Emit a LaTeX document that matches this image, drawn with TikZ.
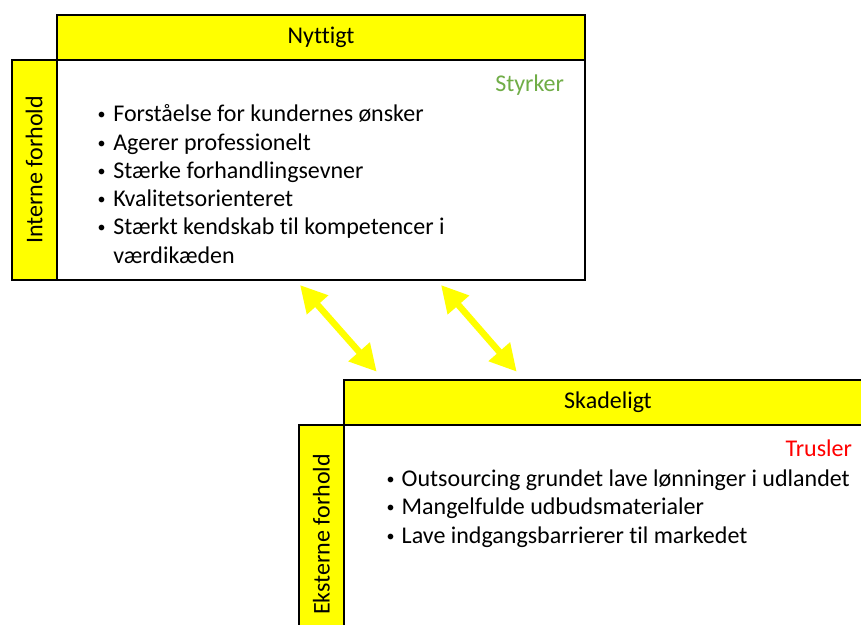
\documentclass[tikz,border=0pt]{standalone}
\usepackage{fontspec}
\setmainfont{Carlito}[Ligatures=NoCommon]
\usetikzlibrary{arrows.meta}
\definecolor{swotyellow}{RGB}{255,255,0}
\definecolor{strengthgreen}{RGB}{112,173,71}
\definecolor{threatred}{RGB}{255,0,0}
\begin{document}
\begin{tikzpicture}[x=1pt,y=-1pt,
  every node/.style={inner sep=0pt, outer sep=0pt, font=\fontsize{24pt}{28.3pt}\selectfont},
  panel/.style={draw=black, line width=2pt, fill=white, minimum width=528pt, minimum height=220pt},
  headbar/.style={draw=black, line width=2pt, fill=swotyellow, minimum width=528pt, minimum height=45pt},
  sidebar/.style={draw=black, line width=2pt, fill=swotyellow, rotate=90, minimum width=220pt, minimum height=45.5pt},
  dot/.style={anchor=base, font=\fontsize{16pt}{16pt}\selectfont},
  entry/.style={anchor=base west},
  tag/.style={anchor=base east},
  link/.style={draw=swotyellow, line width=6.5pt,
    {Triangle[length=26.6pt,width=27pt]}-{Triangle[length=26.6pt,width=27pt]}}
]
\useasboundingbox (0,0) rectangle (861,624);
\clip (0,0) rectangle (861,624);

% upper quadrant: internal, helpful
\node[panel] (strengths) at (321,170) {};
\node[headbar] (helpful) at (321,37.5) {Nyttigt};
\node[sidebar] (internal) at (34.25,170) {Interne forhold};
\node[tag, text=strengthgreen] (stag) at (564,91) {Styrker};
\foreach \t [count=\k from 0] in {Forståelse for kundernes ønsker, Agerer professionelt,
    Stærke forhandlingsevner, Kvalitetsorienteret, Stærkt kendskab til kompetencer i} {
  \node[dot] (sdot\k) at (101.7,{119.7+28.3*\k}) {•};
  \node[entry] (sitem\k) at (113.3,{121.7+28.3*\k}) {\t};
}
\node[entry] (sitem5) at (113.3,263.2) {værdikæden};

% lower quadrant: external, harmful
\node[panel] (threats) at (608,534.5) {};
\node[headbar] (harmful) at (608,402) {Skadeligt};
\node[sidebar] (external) at (321.5,534.5) {Eksterne forhold};
\node[tag, text=threatred] (ttag) at (852,456.5) {Trusler};
\foreach \t [count=\k from 0] in {Outsourcing grundet lave lønninger i udlandet,
    Mangelfulde udbudsmaterialer, Lave indgangsbarrierer til markedet} {
  \node[dot] (tdot\k) at (390.7,{484.6+28.2*\k}) {•};
  \node[entry] (titem\k) at (401.7,{486.6+28.2*\k}) {\t};
}

% two-way links between the quadrants
\coordinate (l1a) at (300,285);
\coordinate (l1b) at (376.7,371.7);
\coordinate (l2a) at (441,285);
\coordinate (l2b) at (516.7,371.7);
\draw[link] (l1a) -- (l1b);
\draw[link] (l2a) -- (l2b);
\end{tikzpicture}
\end{document}
